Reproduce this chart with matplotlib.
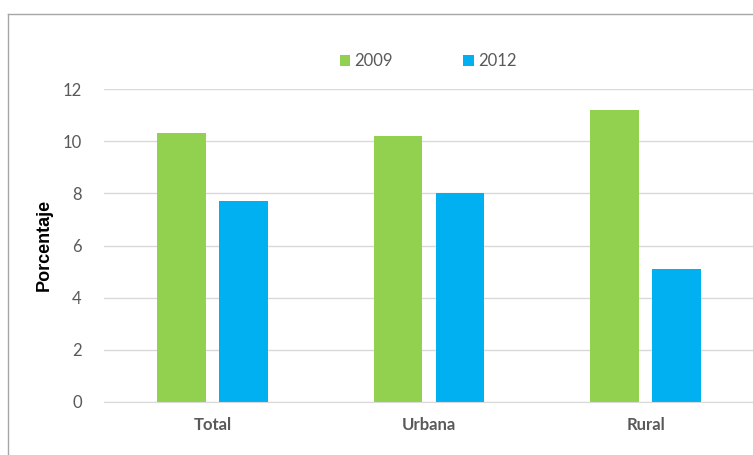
import matplotlib
matplotlib.use("Agg")
import matplotlib.pyplot as plt
import numpy as np

categories = ["Total", "Urbana", "Rural"]
series_names = ["2009", "2012"]
values_2009 = [10.3, 10.2, 11.2]
values_2012 = [7.7, 8.0, 5.1]
yticks = [0, 2, 4, 6, 8, 10, 12]

W, H = 753, 455
fig = plt.figure(figsize=(W / 100, H / 100), dpi=100)
plt.rcParams['font.family'] = ['Lato', 'DejaVu Sans']

left, right, top, bottom = 104, 754, 89, 402
ax = fig.add_axes([left / W, 1 - bottom / H, (right - left) / W, (bottom - top) / H])

x = np.arange(len(categories))
bw = 0.226
off = 0.143
ax.bar(x - off, values_2009, bw, color="#92D050", label=series_names[0], zorder=3)
ax.bar(x + off, values_2012, bw, color="#00B0F0", label=series_names[1], zorder=3)

ax.set_xlim(-0.5, 2.5)
ax.set_ylim(0, 12)
ax.set_yticks(yticks)
ax.set_yticklabels([str(v) for v in yticks], color="#595959", fontsize=12)
ax.set_xticks(x)
ax.set_xticklabels(categories, color="#595959", fontsize=12, fontweight="bold")
ax.tick_params(axis="both", length=0)
ax.tick_params(axis="y", pad=16)
ax.tick_params(axis="x", pad=11)
ax.yaxis.grid(True, color="#D9D9D9", linewidth=1, zorder=0)
ax.set_axisbelow(True)
for s in ["top", "right", "left"]:
    ax.spines[s].set_visible(False)
ax.spines["bottom"].set_color("#D9D9D9")
ax.spines["bottom"].set_zorder(4)

fig.text(44 / W, 1 - 245 / H, "Porcentaje", rotation=90, ha="center", va="center",
         fontsize=13, fontweight="bold", family=["Liberation Sans", "DejaVu Sans"], color="black")

leg = fig.legend(loc="center", bbox_to_anchor=(428 / W, 1 - 61 / H), ncol=2, frameon=False,
                 fontsize=12, handlelength=0.65, handleheight=0.65, handletextpad=0.25,
                 columnspacing=4.2)
for t in leg.get_texts():
    t.set_color("#595959")

# outer chart frame (partially cropped)
fig.add_artist(plt.Line2D([7.5 / W, 7.5 / W], [0, 1 - 13.5 / H], transform=fig.transFigure,
                          color="#A6A6A6", linewidth=1))
fig.add_artist(plt.Line2D([7.5 / W, 1], [1 - 13.5 / H, 1 - 13.5 / H], transform=fig.transFigure,
                          color="#A6A6A6", linewidth=1))

fig.savefig("out.png", dpi=100)
